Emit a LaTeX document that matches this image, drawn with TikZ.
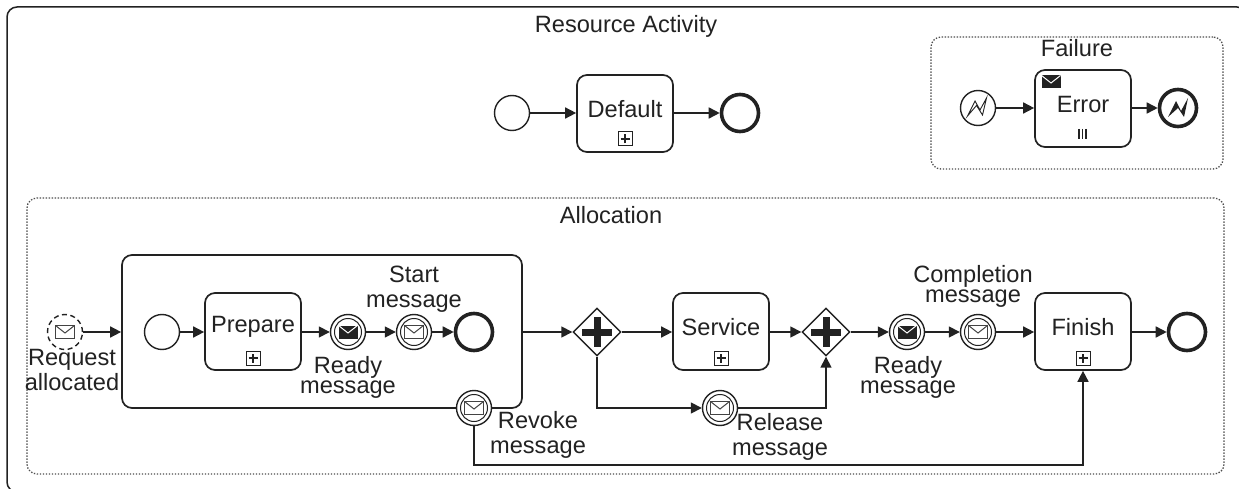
\documentclass[tikz,border=0pt]{standalone}
\usepackage{fontspec}
\setmainfont{Liberation Sans}
\usetikzlibrary{arrows.meta,shapes.geometric}
\definecolor{ink}{HTML}{222222}
\tikzset{
  x=1pt,y=-1pt,
  every node/.style={text=ink},
  txt/.style={align=center,inner sep=0pt,font=\fontsize{23.6}{25}\selectfont},
  tight/.style={align=center,inner sep=0pt,font=\fontsize{23.6}{20}\selectfont},
  task/.style={draw=ink,line width=1.7pt,rounded corners=10pt,fill=white,minimum width=96pt,minimum height=77pt,inner sep=0pt},
  ev/.style={draw=ink,circle,line width=1.4pt,minimum size=35pt,inner sep=0pt,fill=white},
  endev/.style={draw=ink,circle,line width=3.6pt,minimum size=37pt,inner sep=0pt,fill=white},
  gw/.style={draw=ink,diamond,aspect=1,line width=1.4pt,minimum width=48pt,minimum height=48pt,inner sep=0pt,fill=white},
  flow/.style={draw=ink,line width=1.6pt,-{Triangle[length=11pt,width=11pt]}},
  plainflow/.style={draw=ink,line width=1.6pt},
  dotbox/.style={draw=ink!80,line width=1.3pt,dash pattern=on 1.4pt off 1.6pt,rounded corners=10pt},
}
\newcommand\ring[1]{\draw[ink,line width=1pt] (#1) circle[radius=13.5pt];}
\newcommand\envw[1]{\draw[ink!85,line width=1pt,fill=white] ([xshift=-9.5pt,yshift=-6.5pt]#1) rectangle ([xshift=9.5pt,yshift=6.5pt]#1);
  \draw[ink!85,line width=1pt] ([xshift=-9.5pt,yshift=6.5pt]#1) -- ([yshift=-1pt]#1) -- ([xshift=9.5pt,yshift=6.5pt]#1);}
\newcommand\envb[1]{\fill[ink] ([xshift=-9.5pt,yshift=-6.5pt]#1) rectangle ([xshift=9.5pt,yshift=6.5pt]#1);
  \draw[white,line width=1pt] ([xshift=-9.5pt,yshift=6.5pt]#1) -- ([yshift=-1pt]#1) -- ([xshift=9.5pt,yshift=6.5pt]#1);}
\newcommand\plusm[1]{\draw[ink,line width=1pt,fill=white] ([xshift=-7pt,yshift=-7pt]#1) rectangle ([xshift=7pt,yshift=7pt]#1);
  \draw[ink,line width=1.4pt] ([xshift=-4.5pt]#1) -- ([xshift=4.5pt]#1) ([yshift=-4.5pt]#1) -- ([yshift=4.5pt]#1);}
\newcommand\gwplus[1]{\fill[ink] ([xshift=-15pt,yshift=-3.5pt]#1) rectangle ([xshift=15pt,yshift=3.5pt]#1);
  \fill[ink] ([xshift=-3.5pt,yshift=-15pt]#1) rectangle ([xshift=3.5pt,yshift=15pt]#1);}
\begin{document}
\begin{tikzpicture}
\useasboundingbox (0,0) rectangle (1239,489);
\fill[white] (0,0) rectangle (1239,489);
% containers (the outer box runs past the right and bottom edges of the page)
\node[draw=ink,line width=1.5pt,rounded corners=10pt,minimum width=1240pt,minimum height=485pt,inner sep=0pt] (outer) at (627,249.5) {};
\node[dotbox,minimum width=292pt,minimum height=132pt,inner sep=0pt] (failure) at (1077,103) {};
\node[dotbox,minimum width=1197pt,minimum height=276pt,inner sep=0pt] (alloc) at (625.5,336) {};
\node[txt] (tres) at (626,26) {Resource Activity};
\node[txt] (tfail) at (1077,48) {Failure};
\node[txt] (talloc) at (611,215) {Allocation};
% top default
\node[ev] (s0) at (512,113) {};
\node[task] (def) at (625,113.5) {};
\node[txt] (tdef) at (625,109) {Default};
\node[endev] (e0) at (740,113) {};
\plusm{625,139}
\draw[flow] (s0) -- (s0 -| def.west);
\draw[flow] (def.east |- e0) -- (e0);
% failure
\node[ev] (s1) at (978,108) {};
\node[task] (err) at (1083,108.5) {};
\node[txt] (terr) at (1083,104) {Error};
\node[endev] (e1) at (1178,108) {};
\draw[flow] (s1) -- (s1 -| err.west);
\draw[flow] (err.east |- e1) -- (e1);
\envb{1051,82}
\draw[ink,line width=1.2pt] (1079,129) -- (1079,139) (1082.5,129) -- (1082.5,139) (1086,129) -- (1086,139);
\draw[ink,line width=0.9pt,line join=miter] (967.5,116) -- (975,101) -- (980,110) -- (986.5,98) -- (982.5,115) -- (976.5,105.5) -- cycle;
\fill[ink] (1168,117) -- (1176,101) -- (1181,111) -- (1188,98) -- (1184,117) -- (1178,108) -- cycle;
% allocation: subprocess
\node[task,minimum width=400pt,minimum height=153pt] (sub) at (322,331.5) {};
\node[ev,dash pattern=on 5pt off 3.5pt] (req) at (65,332) {};
\envw{65,332}
\node[txt] (treq) at (72,370) {Request\\allocated};
\draw[flow] (req) -- (req -| sub.west);
\node[ev] (s2) at (162,332) {};
\node[task] (prep) at (253,331.5) {};
\node[txt] (tprep) at (253,327) {Prepare};
\plusm{253,358}
\node[ev] (ready1) at (348,332) {};
\ring{348,332}\envb{348,332}
\node[ev] (start) at (414,332) {};
\ring{414,332}\envw{414,332}
\node[endev] (e2) at (474,332) {};
\node[txt] (tstart) at (414,289) {Start\\message};
\node[tight] (tready1) at (348,377) {Ready\\message};
\draw[flow] (s2) -- (s2 -| prep.west);
\draw[flow] (prep.east |- ready1) -- (ready1);
\draw[flow] (ready1) -- (start);
\draw[flow] (start) -- (e2);
% gateways and service
\node[gw] (g1) at (597,332) {};
\gwplus{597,332}
\node[task] (serv) at (721,331.5) {};
\node[txt] (tserv) at (721,327) {Service};
\plusm{721,358}
\node[gw] (g2) at (826,332) {};
\gwplus{826,332}
\draw[flow] (sub.east |- g1) -- (g1);
\draw[flow] (g1) -- (g1 -| serv.west);
\draw[flow] (serv.east |- g2) -- (g2);
% release
\node[ev] (rel) at (720,408) {};
\ring{720,408}\envw{720,408}
\node[txt] (trel) at (780,437) {Release\\message};
\draw[flow] (g1.south) |- (rel);
\draw[flow] (rel) -| (g2.south);
% right part
\node[ev] (ready2) at (907,332) {};
\ring{907,332}\envb{907,332}
\node[ev] (comp) at (978,332) {};
\ring{978,332}\envw{978,332}
\node[task] (fin) at (1083,331.5) {};
\node[txt] (tfin) at (1083,327) {Finish};
\plusm{1083,358}
\node[endev] (e3) at (1187,332) {};
\node[tight] (tcomp) at (973,286) {Completion\\message};
\node[tight] (tready2) at (908,377) {Ready\\message};
\draw[flow] (g2) -- (ready2);
\draw[flow] (ready2) -- (comp);
\draw[flow] (comp) -- (comp -| fin.west);
\draw[flow] (fin.east |- e3) -- (e3);
% revoke
\node[ev] (rev) at (474,408) {};
\ring{474,408}\envw{474,408}
\node[txt] (trev) at (538,435) {Revoke\\message};
\coordinate (cc) at (1083,465);
\draw[flow] (rev.south) |- (cc) -- (fin.south);
\end{tikzpicture}
\end{document}
